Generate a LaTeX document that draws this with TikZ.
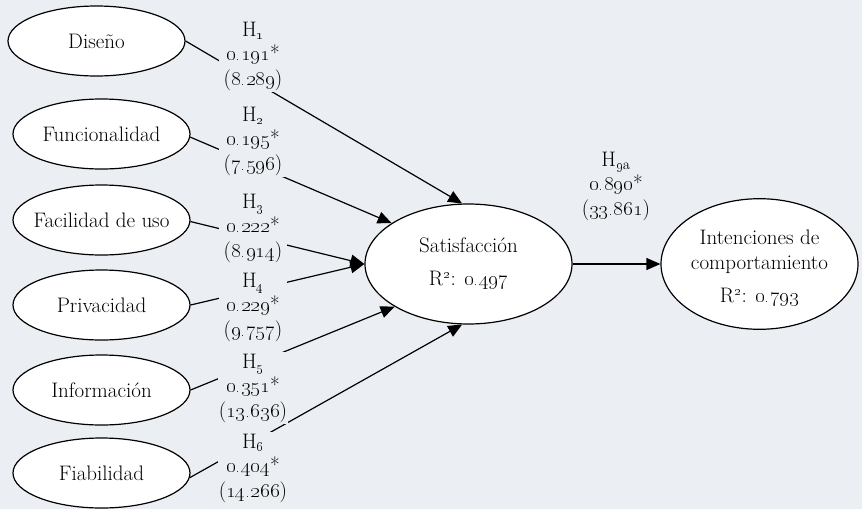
\documentclass[tikz,border=0pt]{standalone}
\usetikzlibrary{shapes.geometric,arrows.meta}
\definecolor{bg}{HTML}{EBEEF2}
\newcommand\osn[1]{\oldstylenums{#1}}
\begin{document}
\begin{tikzpicture}[x=1pt,y=-1pt,
  every node/.style={font=\fontsize{21}{24.5}\selectfont},
  construct/.style={ellipse,draw,fill=white,line width=1.2pt,inner sep=0pt,
    minimum width=177pt,minimum height=70pt},
  coef/.style={fill=bg,inner xsep=1pt,inner ysep=2pt,minimum width=68pt,align=center},
  path/.style={line width=1.2pt,-{Triangle[length=14pt,width=12pt]}}]
% background
\fill[bg] (0,0) rectangle (862,509);
\useasboundingbox (0,0) rectangle (862,509);

% exogenous constructs
\node[construct] (dis) at (96.5,41)  {\makebox[0pt]{Diseño}};
\node[construct] (fun) at (101.5,134) {\makebox[0pt]{Funcionalidad}};
\node[construct] (fac) at (101.5,220) {\makebox[0pt]{Facilidad de uso}};
\node[construct] (pri) at (101.5,305) {\makebox[0pt]{Privacidad}};
\node[construct] (inf) at (101.5,390) {\makebox[0pt]{Información}};
\node[construct] (fia) at (101.5,473) {\makebox[0pt]{Fiabilidad}};

% endogenous constructs
\node[construct,minimum width=207pt,minimum height=120pt] (sat) at (468.5,264)
  {\makebox[0pt]{\begin{tabular}{@{}c@{}}Satisfacción\\[9pt]R\textsuperscript{\osn{2}}: \osn{0.497}\end{tabular}}};
\node[construct,minimum width=197pt,minimum height=120pt] (int) at (759.5,264)
  {\makebox[0pt]{\begin{tabular}{@{}c@{}}\rule{0pt}{27pt}Intenciones de\\comportamiento\\[9pt]R\textsuperscript{\osn{2}}: \osn{0.793}\end{tabular}}};

% structural paths
\draw[path] (dis.east) -- (sat.96);
\draw[path] (fun.-2) -- (sat.152);
\draw[path] (fac.-1) -- (sat.west);
\draw[path] (pri.east) -- (sat.west);
\draw[path] (inf.east) -- (sat.210);
\draw[path] (fia.-3) -- (sat.264);
\draw[path] (sat.east) -- (int.west);

% path coefficients (t values in parentheses)
\node[coef] (h1) at (253,56)  {H\textsubscript{\osn{1}}\\\osn{0.191}*\\(\osn{8.289})};
\node[coef] (h2) at (253,141) {H\textsubscript{\osn{2}}\\\osn{0.195}*\\(\osn{7.596})};
\node[coef] (h3) at (253,228) {H\textsubscript{\osn{3}}\\\osn{0.222}*\\(\osn{8.914})};
\node[coef] (h4) at (253,307) {H\textsubscript{\osn{4}}\\\osn{0.229}*\\(\osn{9.757})};
\node[coef] (h5) at (253,388) {H\textsubscript{\osn{5}}\\\osn{0.351}*\\(\osn{13.636})};
\node[coef] (h6) at (253,468) {H\textsubscript{\osn{6}}\\\osn{0.404}*\\(\osn{14.266})};
\node[coef] (h9) at (616,186) {H\textsubscript{\osn{9}a}\\\osn{0.890}*\\(\osn{33.861})};
\end{tikzpicture}
\end{document}
